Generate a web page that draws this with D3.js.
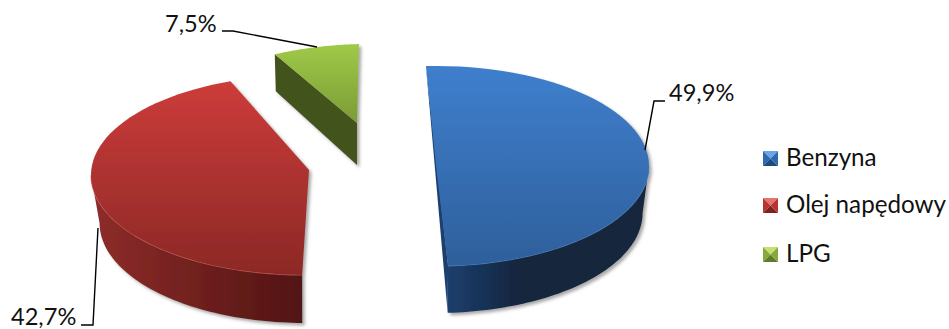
<!DOCTYPE html>
<html><head><meta charset="utf-8">
<script src="https://cdn.jsdelivr.net/npm/d3@7/dist/d3.min.js"></script>
<style>html,body{margin:0;padding:0;background:#fff}svg{display:block}text{font-family:Lato,"Open Sans",sans-serif;fill:#111}</style>
</head><body><svg id="c" width="949" height="329"></svg>
<script>
const categories = ["Benzyna", "Olej napędowy", "LPG"];
const values = [49.9, 42.7, 7.5];
const labels = ["49,9%", "42,7%", "7,5%"];

const geom = [
 {cx:436,cy:166,ax:436,ay:166,rx:213,ry:100,a:0,sh:0,d0:0,d1:0,bs:.97,depth:47,top:["#3f7fcd","#2e5f9b"],side:["#1c3f6d","#13253e"],rim:"#5a93d6",sy:[66,266]},
 {cx:305,cy:175,ax:309,ay:170,rx:214,ry:100,a:0,sh:0,d0:4,d1:9.3,bs:.96,depth:48,top:["#cd3c3a","#8c2826"],side:["#8f2c2a","#511412"],rim:"#dc6a66",sy:[80,275]},
 {cx:357,cy:123,ax:357,ay:123,rx:206,ry:79,a:.12,sh:-10.5,d0:0,d1:0,bs:1,depth:40,top:["#9fc947","#7b9b36"],side:["#43521e","#3f4d1b"],rim:"#a8cf55",sy:[45,123]}
];
const swatch = [["#2f69ad","#6aa6e6","#1f4a80"],["#b63533","#e8736e","#7d2220"],["#86a83c","#c4e070","#5f7a28"]];
const legendY = [166,213,262];
const leaders = [[[665,101],[654,101],[645,150]],[[81,325],[93,325],[98,228]],[[222,31],[233,31],[317,47]]];
const labelPos = [[669,101],[11,325],[165,32]];

const svg = d3.select("#c"), defs = svg.append("defs");
const f = defs.append("filter").attr("id","sh").attr("x","-10%").attr("y","-10%").attr("width","120%").attr("height","120%");
f.append("feDropShadow").attr("dx",2.5).attr("dy",2.5).attr("stdDeviation",1.5).attr("flood-color","#555").attr("flood-opacity",.5);

const rad = Math.PI/180;
const pie = d3.pie().sort(null).startAngle(-2.7*rad).endAngle(-2.7*rad+2*Math.PI);
const arcs = pie(values);
const line = d3.line();

arcs.forEach((d,i)=>{
  const g = geom[i];
  const start=d.startAngle+g.d0*rad, end=d.endAngle+g.d1*rad;
  const P = (t,dz=0)=>{const u=Math.sin(t),v=-Math.cos(t);
    const x=g.cx+g.rx*u*(1+g.a*v)+g.sh*v;
    return [dz?g.cx+(x-g.cx)*g.bs:x, g.cy+g.ry*v+dz];};
  const apex=[g.ax,g.ay];
  const samp=(a,b,dz=0)=>d3.range(0,61).map(k=>P(a+(b-a)*k/60,dz));
  const vid="v"+i, hid="h"+i;
  const lg=defs.append("linearGradient").attr("id",vid).attr("gradientUnits","userSpaceOnUse")
    .attr("x1",0).attr("x2",0).attr("y1",g.sy[0]).attr("y2",g.sy[1]);
  lg.append("stop").attr("offset",0).attr("stop-color",g.top[0]);
  lg.append("stop").attr("offset",1).attr("stop-color",g.top[1]);
  const gr=svg.append("g").attr("filter","url(#sh)");
  const top=samp(start,end);
  if(i===0){
    const s=P(start),e=P(end);
    gr.append("path").attr("d",line([s,e,P(end,g.depth)])+"Z").attr("fill","#1c3f6d");
  }
  if(i===2){
    const s=P(start);
    gr.append("path").attr("d",line([s,[s[0]+1,s[1]+37],[apex[0],apex[1]+42],apex])+"Z").attr("fill",g.side[0]);
  } else {
    const a0=Math.max(start,Math.PI/2), a1=Math.min(end,3*Math.PI/2);
    const up=samp(a0,a1), lo=samp(a0,a1,g.depth);
    const xs=d3.extent(up,p=>p[0]);
    const hg=defs.append("linearGradient").attr("id",hid).attr("gradientUnits","userSpaceOnUse")
      .attr("x1",xs[0]).attr("x2",xs[1]).attr("y1",0).attr("y2",0);
    hg.append("stop").attr("offset",0).attr("stop-color",g.side[0]);
    hg.append("stop").attr("offset",i===0?.35:1).attr("stop-color",g.side[1]);
    gr.append("path").attr("d",line(up.concat(lo.reverse()))+"Z").attr("fill",`url(#${hid})`);
    gr.append("path").attr("d",line(samp(a0,a1))).attr("fill","none").attr("stroke",g.rim).attr("stroke-width",1.2).attr("opacity",.7);
  }
  gr.append("path").attr("d",line([apex].concat(top))+"Z").attr("fill",`url(#${vid})`);
});

leaders.forEach(l=>svg.append("path").attr("d",line(l)).attr("fill","none").attr("stroke","#000").attr("stroke-width",1.4));
labels.forEach((t,i)=>svg.append("text").attr("x",labelPos[i][0]).attr("y",labelPos[i][1]).attr("font-size",23.6).text(t));

categories.forEach((c,i)=>{
  const y=legendY[i]-15,x=763,s=15,m=s/2,cl=swatch[i];
  const tris=[[[x,y],[x+s,y],[x+m,y+m]],[[x,y],[x+m,y+m],[x,y+s]],[[x,y+s],[x+m,y+m],[x+s,y+s]],[[x+s,y],[x+s,y+s],[x+m,y+m]]];
  [cl[1],cl[0],cl[2],cl[0]].forEach((col,k)=>svg.append("path").attr("d",line(tris[k])+"Z").attr("fill",col));
  svg.append("text").attr("x",786).attr("y",legendY[i]).attr("font-size",24.2).text(c);
});
</script></body></html>
